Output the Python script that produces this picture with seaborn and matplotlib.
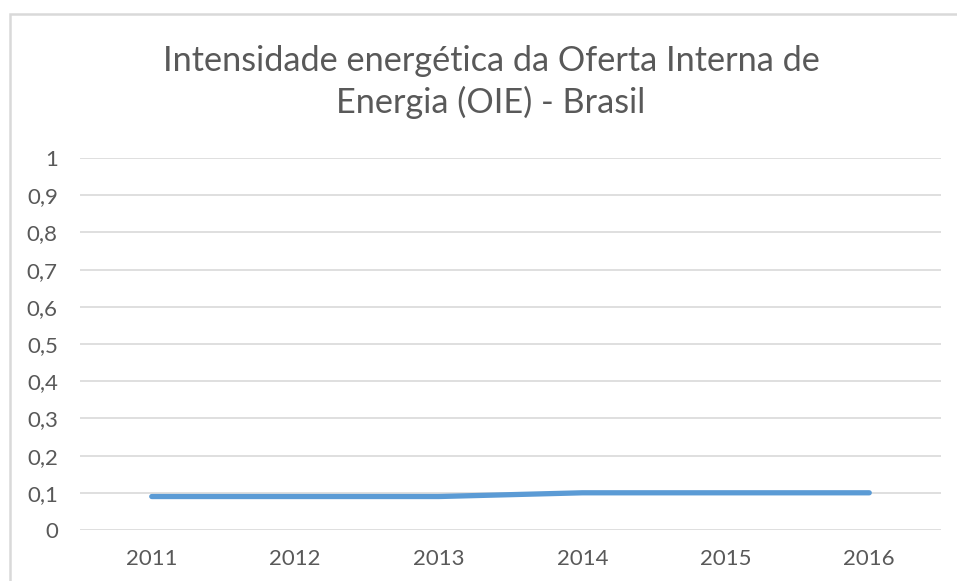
import matplotlib
matplotlib.use("Agg")
import matplotlib.pyplot as plt
from matplotlib.patches import Rectangle
import pandas as pd
import seaborn as sns

TITLE = "Intensidade energética da Oferta Interna de\nEnergia (OIE) - Brasil"
YEARS = ["2011", "2012", "2013", "2014", "2015", "2016"]
VALUES = [0.09, 0.09, 0.09, 0.10, 0.10, 0.10]
Y_TICKS = [0, 0.1, 0.2, 0.3, 0.4, 0.5, 0.6, 0.7, 0.8, 0.9, 1.0]

LINE_COLOR = "#5B9BD5"
GRID_COLOR = "#D9D9D9"
TEXT_COLOR = "#595959"

sns.set_style("white")
plt.rcParams["font.family"] = ["Lato", "DejaVu Sans"]

df = pd.DataFrame({"ano": YEARS, "valor": VALUES})

W, H = 957, 581
fig = plt.figure(figsize=(W / 100, H / 100), dpi=100)
ax = fig.add_axes([80 / W, 1 - 530 / H, 861 / W, 372 / H])

sns.lineplot(data=df, x="ano", y="valor", ax=ax, color=LINE_COLOR,
             linewidth=3.8, solid_capstyle="round", sort=False)

ax.set_xlim(-0.5, len(YEARS) - 0.5)
ax.set_ylim(0, 1)
ax.set_yticks(Y_TICKS)
ax.set_yticklabels([f"{t:g}".replace(".", ",") for t in Y_TICKS])
ax.yaxis.grid(True, color=GRID_COLOR, linewidth=1.2)
ax.set_axisbelow(True)
for s in ax.spines.values():
    s.set_visible(False)
ax.tick_params(axis="both", length=0, labelsize=16, colors=TEXT_COLOR)
ax.tick_params(axis="y", pad=16)
ax.tick_params(axis="x", pad=14)
ax.set_xlabel("")
ax.set_ylabel("")

fig.text(491 / W, 1 - 82 / H, TITLE, ha="center", va="center",
         fontsize=24.7, color=TEXT_COLOR, linespacing=1.33)

# chart area border (cropped at right and bottom in the reference)
fig.patches.append(Rectangle((9.5 / W, -0.1), 1.2, 1 - 13.5 / H + 0.1,
                             transform=fig.transFigure, fill=False,
                             edgecolor=GRID_COLOR, linewidth=1.8))

fig.savefig("out.png", dpi=100)
